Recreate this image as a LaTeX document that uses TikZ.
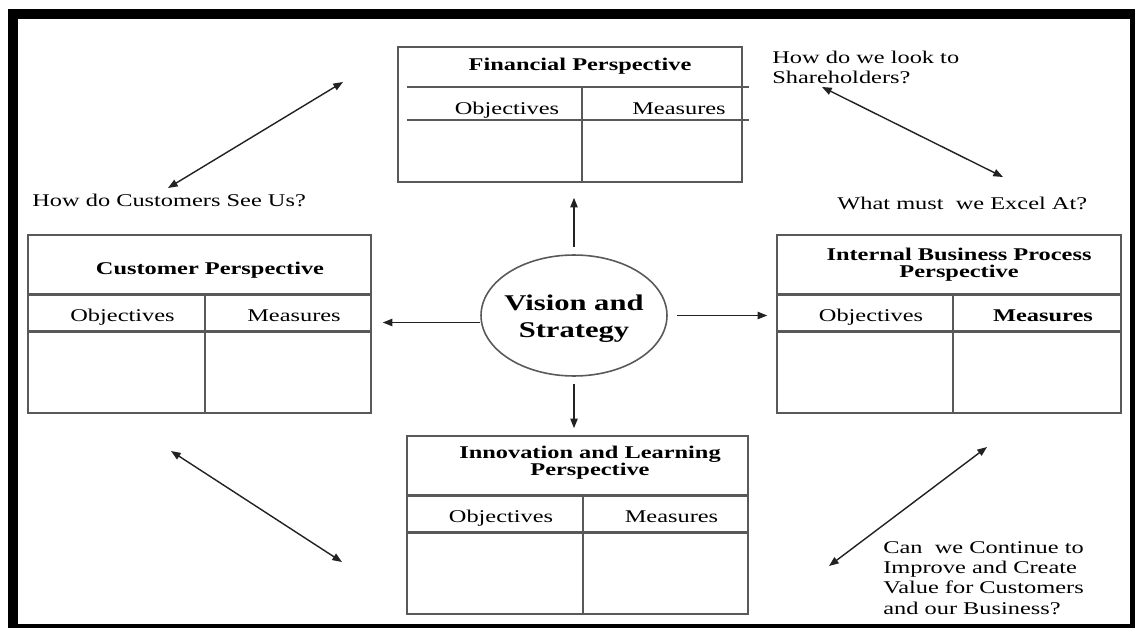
\documentclass[tikz,border=0pt]{standalone}
\usepackage{fontspec}
\setmainfont{Liberation Serif}[FakeStretch=1.36]
\usepackage{tikz}
\usetikzlibrary{positioning,shapes.geometric,arrows.meta,calc}
\definecolor{linegray}{HTML}{595959}
\definecolor{arrowink}{HTML}{222222}

\begin{document}
\begin{tikzpicture}[x=0.02cm, y=-0.02cm, node distance = 0pt,
    cell/.style={rectangle, draw = linegray, line width = 0.9pt, inner sep = 0pt},
    headtext/.style={font=\bfseries\fontsize{10.2}{9.7}\selectfont, align = center, inner sep = 0pt},
    colname/.style={font=\fontsize{10.2}{11.2}\selectfont, inner sep = 0pt, text height = 7pt, text depth = 2.2pt,
        xshift = 0.12cm, yshift = -0.09cm},
    colcell/.style={cell, minimum height = 0.70cm, label={[colname]center:#1}},
    blank/.style={cell, minimum height = 1.62cm},
    ask/.style={font=\fontsize{10.2}{11.6}\selectfont, align = left, inner sep = 0pt},
    hub/.style={ellipse, draw = linegray, line width = 0.9pt, minimum width = 3.72cm, minimum height = 2.42cm, inner sep = 0pt},
    hubtext/.style={font=\bfseries\fontsize{12.8}{15.3}\selectfont, align = center, inner sep = 0pt, yshift = -0.06cm},
    link/.style={draw = arrowink, line width = 0.8pt, -{Triangle[length=5.5pt,width=4.2pt]}},
    twoway/.style={link, {Triangle[length=5.5pt,width=4.2pt]}-{Triangle[length=5.5pt,width=4.2pt]}}]
    \useasboundingbox (0,0) rectangle (1138,628);
    % frame
    \fill[black] (8,9) rectangle (1135,628);
    \fill[white] (18,19) rectangle (1130,624);

    % financial perspective
    \node (F) [cell, minimum width = 6.88cm, minimum height = 2.70cm] at (570,114.5) {};
    \node (FT) [headtext] at (580,66) {Financial Perspective};
    \node (FO) [colname, xshift = 0pt, yshift = 0pt] at (501,106) {Objectives};
    \node (FM) [colname, xshift = 0pt, yshift = 0pt] at (673,106) {Measures};
    \draw[linegray, line width = 0.9pt] ($(F.north west)+(10,41)$) -- ++(342,0)
        ($(F.north west)+(10,74)$) -- ++(342,0)
        ($(F.north west)+(185,41)$) -- ($(F.south west)+(185,0)$);

    % customer perspective
    \node (CH) [cell, minimum width = 6.86cm, minimum height = 1.18cm,
        label={[headtext, xshift = 0.21cm, yshift = -0.12cm]center:Customer Perspective}] at (199.5,264.5) {};
    \node (CO) [colcell=Objectives, minimum width = 3.54cm, below=of CH.south west, anchor=north west] {};
    \node (CM) [colcell=Measures, minimum width = 3.32cm, below=of CH.south east, anchor=north east] {};
    \node (CA) [blank, minimum width = 3.54cm, below=of CO] {};
    \node (CB) [blank, minimum width = 3.32cm, below=of CM] {};

    % internal business process perspective
    \node (IH) [cell, minimum width = 6.88cm, minimum height = 1.18cm,
        label={[headtext, xshift = 0.2cm]center:Internal Business Process\\Perspective}] at (949,264.5) {};
    \node (IO) [colcell=Objectives, minimum width = 3.52cm, below=of IH.south west, anchor=north west] {};
    \node (IM) [colcell={\bfseries Measures}, minimum width = 3.36cm, below=of IH.south east, anchor=north east] {};
    \node (IA) [blank, minimum width = 3.52cm, below=of IO] {};
    \node (IB) [blank, minimum width = 3.36cm, below=of IM] {};

    % innovation and learning perspective
    \node (LH) [cell, minimum width = 6.82cm, minimum height = 1.18cm,
        label={[headtext, xshift = 0.25cm, yshift = 0.06cm]center:Innovation and Learning\\Perspective}] at (577.5,465.5) {};
    \node (LO) [colcell=Objectives, minimum width = 3.52cm, below=of LH.south west, anchor=north west] {};
    \node (LM) [colcell=Measures, minimum width = 3.30cm, below=of LH.south east, anchor=north east] {};
    \node (LA) [blank, minimum width = 3.52cm, below=of LO] {};
    \node (LB) [blank, minimum width = 3.30cm, below=of LM] {};

    % vision and strategy
    \node (V) [hub, label={[hubtext]center:Vision and\\Strategy}] at (574,315.5) {};
    \coordinate (Vl) at ([yshift=-0.14cm]V.west);
    \draw[link, shorten <=0.14cm, shorten >=0.30cm] (V.north) -- (V.north |- F.south);
    \draw[link, shorten <=0.14cm, shorten >=0.14cm] (V.south) -- (V.south |- LH.north);
    \draw[link, shorten >=0.22cm] (Vl) -- (Vl -| CM.east);
    \draw[link, shorten <=0.18cm, shorten >=0.18cm] (V.east) -- (V.east -| IO.west);

    % questions
    \node (qcust) [ask, anchor=base west] at (32,207) {How do Customers See Us?};
    \node (qshare) [ask, anchor=north west] at (772,50.7) {How do we look to\\Shareholders?};
    \node (qexcel) [ask, anchor=base west] at (837,210) {What must~ we Excel At?};
    \node (qgrow) [ask, anchor=north west] at (883,540.8) {Can~ we Continue to\\Improve and Create\\Value for Customers\\and our Business?};

    \coordinate (custA) at (168,188);
    \coordinate (custB) at (343,82);
    \coordinate (shareA) at (822,87);
    \coordinate (shareB) at (1003,177);
    \coordinate (learnA) at (171,451);
    \coordinate (learnB) at (342,562);
    \coordinate (growA) at (829,566);
    \coordinate (growB) at (987,447);
    \draw[twoway] (custA) -- (custB);
    \draw[twoway] (shareA) -- (shareB);
    \draw[twoway] (learnA) -- (learnB);
    \draw[twoway] (growA) -- (growB);
\end{tikzpicture}
\end{document}
